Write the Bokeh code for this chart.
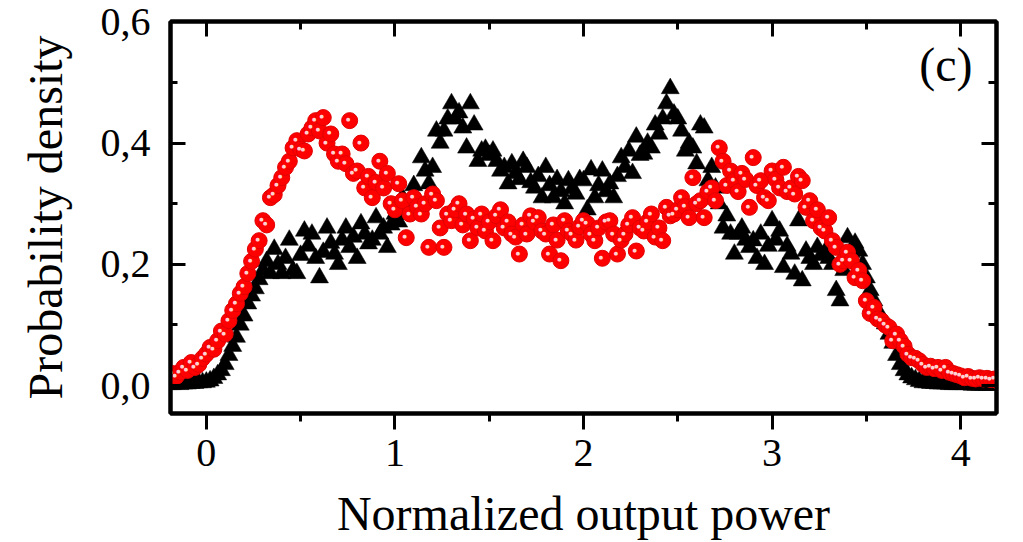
from bokeh.plotting import figure
from bokeh.models import (Range1d, LinearAxis, SingleIntervalTicker, CustomJSTickFormatter,
                          Label, ColumnDataSource)
from bokeh.core.properties import value
from bokeh.embed import file_html
from bokeh.resources import INLINE

# ---------------- data ----------------
power = [
    -0.20, -0.18, -0.16, -0.14, -0.12, -0.10, -0.08, -0.06, -0.04, -0.02,
    0.00, 0.02, 0.04, 0.06, 0.08, 0.10, 0.12, 0.14, 0.16, 0.18,
    0.20, 0.22, 0.24, 0.26, 0.28, 0.30, 0.32, 0.34, 0.36, 0.38,
    0.40, 0.42, 0.44, 0.46, 0.48, 0.50, 0.52, 0.54, 0.56, 0.58,
    0.60, 0.62, 0.64, 0.66, 0.68, 0.70, 0.72, 0.74, 0.76, 0.78,
    0.80, 0.82, 0.84, 0.86, 0.88, 0.90, 0.92, 0.94, 0.96, 0.98,
    1.00, 1.02, 1.04, 1.06, 1.08, 1.10, 1.12, 1.14, 1.16, 1.18,
    1.20, 1.22, 1.24, 1.26, 1.28, 1.30, 1.32, 1.34, 1.36, 1.38,
    1.40, 1.42, 1.44, 1.46, 1.48, 1.50, 1.52, 1.54, 1.56, 1.58,
    1.60, 1.62, 1.64, 1.66, 1.68, 1.70, 1.72, 1.74, 1.76, 1.78,
    1.80, 1.82, 1.84, 1.86, 1.88, 1.90, 1.92, 1.94, 1.96, 1.98,
    2.00, 2.02, 2.04, 2.06, 2.08, 2.10, 2.12, 2.14, 2.16, 2.18,
    2.20, 2.22, 2.24, 2.26, 2.28, 2.30, 2.32, 2.34, 2.36, 2.38,
    2.40, 2.42, 2.44, 2.46, 2.48, 2.50, 2.52, 2.54, 2.56, 2.58,
    2.60, 2.62, 2.64, 2.66, 2.68, 2.70, 2.72, 2.74, 2.76, 2.78,
    2.80, 2.82, 2.84, 2.86, 2.88, 2.90, 2.92, 2.94, 2.96, 2.98,
    3.00, 3.02, 3.04, 3.06, 3.08, 3.10, 3.12, 3.14, 3.16, 3.18,
    3.20, 3.22, 3.24, 3.26, 3.28, 3.30, 3.32, 3.34, 3.36, 3.38,
    3.40, 3.42, 3.44, 3.46, 3.48, 3.50, 3.52, 3.54, 3.56, 3.58,
    3.60, 3.62, 3.64, 3.66, 3.68, 3.70, 3.72, 3.74, 3.76, 3.78,
    3.80, 3.82, 3.84, 3.86, 3.88, 3.90, 3.92, 3.94, 3.96, 3.98,
    4.00, 4.02, 4.04, 4.06, 4.08, 4.10, 4.12, 4.14, 4.16, 4.18,
    4.20,
]

density_black = [
    0.002, 0.002, 0.003, 0.002, 0.003, 0.003, 0.004, 0.004, 0.005, 0.005,
    0.006, 0.008, 0.012, 0.018, 0.025, 0.035, 0.050, 0.065, 0.080, 0.100,
    0.115, 0.135, 0.148, 0.160, 0.175, 0.190, 0.205, 0.185, 0.225, 0.200,
    0.185, 0.210, 0.240, 0.190, 0.185, 0.215, 0.255, 0.230, 0.250, 0.210,
    0.178, 0.220, 0.260, 0.235, 0.217, 0.200, 0.240, 0.260, 0.228, 0.245,
    0.210, 0.267, 0.250, 0.234, 0.240, 0.277, 0.250, 0.260, 0.228, 0.265,
    0.283, 0.270, 0.310, 0.290, 0.283, 0.330, 0.300, 0.376, 0.354, 0.333,
    0.360, 0.420, 0.400, 0.420, 0.440, 0.465, 0.440, 0.450, 0.425, 0.392,
    0.465, 0.430, 0.370, 0.387, 0.390, 0.380, 0.387, 0.370, 0.354, 0.360,
    0.333, 0.366, 0.350, 0.340, 0.370, 0.360, 0.335, 0.326, 0.345, 0.310,
    0.360, 0.330, 0.310, 0.340, 0.320, 0.300, 0.338, 0.325, 0.316, 0.340,
    0.338, 0.290, 0.356, 0.310, 0.330, 0.354, 0.320, 0.333, 0.310, 0.345,
    0.376, 0.360, 0.387, 0.350, 0.410, 0.380, 0.382, 0.400, 0.392, 0.430,
    0.415, 0.440, 0.465, 0.490, 0.448, 0.440, 0.420, 0.387, 0.400, 0.392,
    0.366, 0.430, 0.425, 0.338, 0.360, 0.326, 0.300, 0.260, 0.280, 0.250,
    0.217, 0.250, 0.260, 0.240, 0.228, 0.239, 0.210, 0.250, 0.200, 0.230,
    0.272, 0.240, 0.255, 0.195, 0.230, 0.217, 0.184, 0.272, 0.173, 0.222,
    0.210, 0.200, 0.228, 0.215, 0.220, 0.210, 0.200, 0.157, 0.140, 0.190,
    0.244, 0.220, 0.235, 0.222, 0.200, 0.178, 0.157, 0.140, 0.124, 0.110,
    0.102, 0.085, 0.070, 0.050, 0.035, 0.025, 0.018, 0.013, 0.010, 0.007,
    0.005, 0.005, 0.004, 0.004, 0.003, 0.003, 0.003, 0.002, 0.002, 0.002,
    0.002, 0.002, 0.002, 0.001, 0.001, 0.001, 0.001, 0.001, 0.001, 0.001,
    0.001,
]

density_red = [
    0.013, 0.020, 0.015, 0.022, 0.030, 0.025, 0.038, 0.030, 0.035, 0.045,
    0.052, 0.063, 0.060, 0.074, 0.090, 0.085, 0.107, 0.124, 0.135, 0.152,
    0.163, 0.185, 0.205, 0.225, 0.239, 0.272, 0.265, 0.310, 0.315, 0.330,
    0.343, 0.360, 0.370, 0.392, 0.404, 0.390, 0.387, 0.415, 0.425, 0.437,
    0.420, 0.442, 0.400, 0.415, 0.382, 0.370, 0.382, 0.366, 0.437, 0.350,
    0.354, 0.400, 0.326, 0.345, 0.310, 0.335, 0.370, 0.326, 0.350, 0.300,
    0.290, 0.333, 0.305, 0.244, 0.283, 0.310, 0.295, 0.283, 0.300, 0.228,
    0.316, 0.305, 0.260, 0.228, 0.283, 0.272, 0.290, 0.300, 0.265, 0.283,
    0.239, 0.275, 0.260, 0.283, 0.255, 0.270, 0.239, 0.280, 0.290, 0.260,
    0.270, 0.250, 0.245, 0.217, 0.265, 0.250, 0.280, 0.270, 0.277, 0.255,
    0.250, 0.217, 0.265, 0.240, 0.206, 0.272, 0.255, 0.250, 0.240, 0.262,
    0.272, 0.267, 0.250, 0.239, 0.260, 0.210, 0.270, 0.272, 0.250, 0.217,
    0.240, 0.250, 0.265, 0.277, 0.222, 0.260, 0.255, 0.270, 0.283, 0.245,
    0.260, 0.239, 0.294, 0.280, 0.283, 0.290, 0.310, 0.295, 0.277, 0.343,
    0.300, 0.305, 0.277, 0.320, 0.326, 0.305, 0.392, 0.370, 0.330, 0.354,
    0.338, 0.320, 0.350, 0.340, 0.294, 0.376, 0.330, 0.338, 0.310, 0.305,
    0.354, 0.340, 0.326, 0.360, 0.320, 0.326, 0.316, 0.345, 0.338, 0.294,
    0.305, 0.272, 0.290, 0.260, 0.255, 0.277, 0.239, 0.228, 0.200, 0.206,
    0.220, 0.206, 0.178, 0.190, 0.173, 0.140, 0.119, 0.129, 0.110, 0.107,
    0.100, 0.096, 0.074, 0.085, 0.074, 0.065, 0.052, 0.046, 0.045, 0.041,
    0.035, 0.030, 0.032, 0.028, 0.030, 0.025, 0.030, 0.022, 0.020, 0.018,
    0.016, 0.013, 0.015, 0.012, 0.011, 0.013, 0.011, 0.012, 0.010, 0.011,
    0.007,
]

x_label = "Normalized output power"
y_label = "Probability density"
panel_tag = "(c)"

FONT = "Liberation Serif"

# ---------------- figure ----------------
p = figure(width=1023, height=542, output_backend="svg", toolbar_location=None,
           x_range=Range1d(-0.19, 4.19), y_range=Range1d(-0.046, 0.6005),
           x_axis_type=None, y_axis_type=None,
           min_border_left=170, min_border_right=27, min_border_top=21, min_border_bottom=129)
p.background_fill_color = "white"
p.border_fill_color = "white"
p.outline_line_color = "black"
p.outline_line_width = 4
p.xgrid.visible = False
p.ygrid.visible = False

fmt_y = CustomJSTickFormatter(code="return tick.toFixed(1).replace('.', ',');")
fmt_x = CustomJSTickFormatter(code="return tick.toFixed(0);")


def style_axis(ax):
    ax.axis_line_color = "black"
    ax.axis_line_width = 4
    ax.major_tick_line_color = "black"
    ax.major_tick_line_width = 3
    ax.minor_tick_line_color = "black"
    ax.minor_tick_line_width = 3
    ax.major_label_text_font = FONT
    ax.major_label_text_color = "black"
    ax.axis_label_text_font = FONT
    ax.axis_label_text_font_style = "normal"
    ax.axis_label_text_color = "black"


# bottom axis
xb = LinearAxis(ticker=SingleIntervalTicker(interval=1, num_minor_ticks=2), formatter=fmt_x)
style_axis(xb)
xb.major_tick_in = 0
xb.major_tick_out = 16
xb.minor_tick_in = 0
xb.minor_tick_out = 8
xb.major_label_text_font_size = "40px"
xb.major_label_standoff = 10
xb.axis_label = x_label
xb.axis_label_text_font_size = "48px"
xb.axis_label_standoff = 18
p.add_layout(xb, "below")

# left axis
yl = LinearAxis(ticker=SingleIntervalTicker(interval=0.2, num_minor_ticks=2), formatter=fmt_y)
style_axis(yl)
yl.major_tick_in = 15
yl.major_tick_out = 0
yl.minor_tick_in = 7
yl.minor_tick_out = 0
yl.major_label_text_font_size = "40px"
yl.major_label_standoff = 20
yl.axis_label = y_label
yl.axis_label_text_font_size = "48px"
yl.axis_label_standoff = 26
p.add_layout(yl, "left")

# top axis (mirror, no labels)
xt = LinearAxis(ticker=SingleIntervalTicker(interval=1, num_minor_ticks=2))
style_axis(xt)
xt.major_tick_in = 15
xt.major_tick_out = 0
xt.minor_tick_in = 8
xt.minor_tick_out = 0
xt.major_label_text_font_size = "0px"
xt.major_label_text_alpha = 0
p.add_layout(xt, "above")

# right axis (mirror, no labels)
yr = LinearAxis(ticker=SingleIntervalTicker(interval=0.2, num_minor_ticks=2))
style_axis(yr)
yr.major_tick_in = 15
yr.major_tick_out = 0
yr.minor_tick_in = 8
yr.minor_tick_out = 0
yr.major_label_text_font_size = "0px"
yr.major_label_text_alpha = 0
p.add_layout(yr, "right")

# ---------------- data glyphs ----------------
src = ColumnDataSource(dict(x=power, yb=density_black, yr=density_red,
                            dot=["\u25cf"] * len(power)))

p.scatter("x", "yb", source=src, marker="triangle", size=18,
          fill_color="black", line_color="black", line_width=0.5)

p.scatter("x", "yr", source=src, marker="circle", size=16,
          fill_color="#ff0000", line_color="#e00000", line_width=1)
p.text("x", "yr", text="dot", source=src, x_offset=-1.5, y_offset=-1.5,
       text_font=value("DejaVu Sans"), text_font_size="5px",
       text_align="center", text_baseline="middle", text_color="#ffd2d2")

p.add_layout(Label(x=3.78, y=0.53, text=panel_tag, text_font=FONT,
                   text_font_size="48px", text_color="black",
                   text_baseline="middle", text_align="left"))

open("out.html", "w").write(file_html(p, INLINE))
